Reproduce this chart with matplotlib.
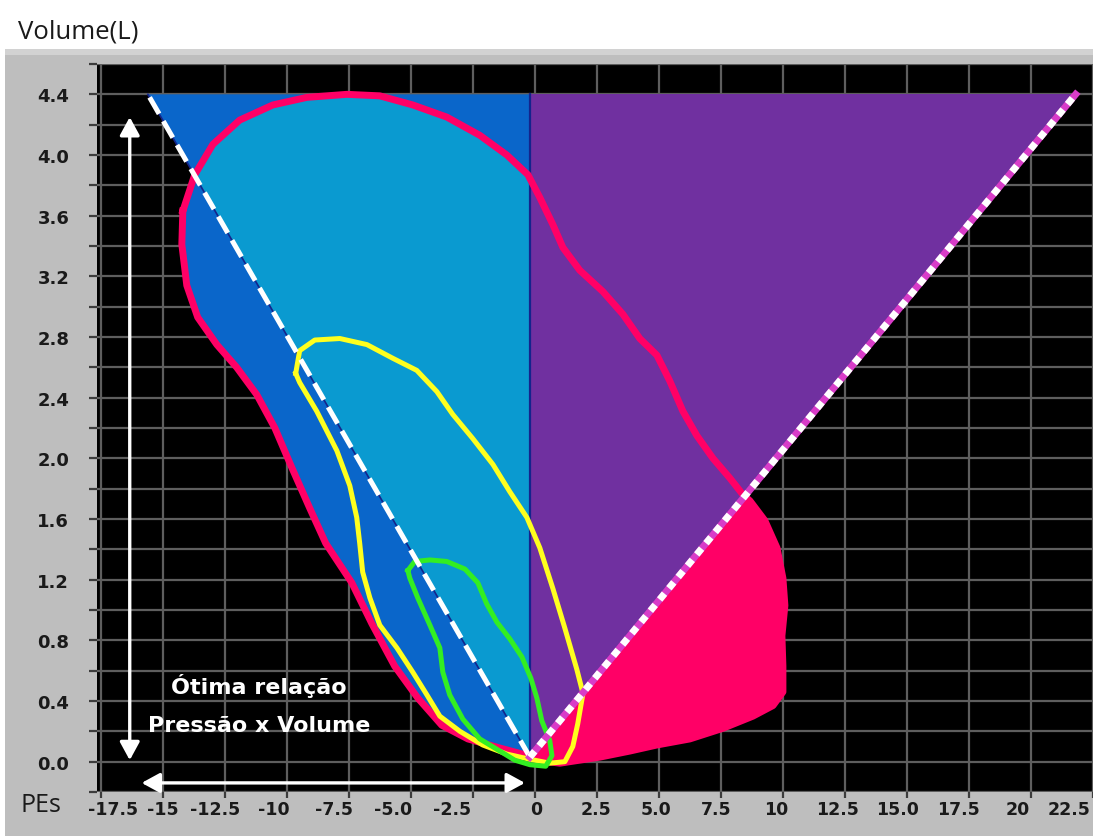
import numpy as np
import matplotlib.pyplot as plt
from matplotlib.patches import Polygon, Rectangle
from matplotlib.transforms import ScaledTranslation

# esophageal pressure (cmH2O) x volume (L) loops
outer_pes = [-14.19, -14.23, -14.03, -13.59, -12.82, -12.02, -11.21, -10.48, -9.80, -9.07,
             -8.43, -7.38, -6.57, -5.65, -4.72, -3.75, -2.70, -1.41, -0.28, 0.52,
             1.01, 1.81, 2.62, 3.83, 4.92, 6.25, 7.58, 8.79, 9.60, 10.00,
             10.00, 9.96, 10.08, 10.00, 9.76, 9.27, 8.67, 8.39, 7.86, 7.18,
             6.53, 5.97, 5.44, 4.92, 4.23, 3.55, 2.74, 1.81, 1.13, 0.73,
             0.20, -0.28, -1.13, -2.22, -3.55, -4.92, -6.25, -7.58, -9.19, -10.56,
             -11.90, -12.98, -13.71]
outer_vol = [3.63, 3.41, 3.14, 2.93, 2.75, 2.60, 2.42, 2.20, 1.94, 1.67,
             1.44, 1.18, 0.91, 0.63, 0.42, 0.24, 0.15, 0.09, 0.04, 0.00,
             -0.01, 0.01, 0.03, 0.07, 0.11, 0.15, 0.22, 0.30, 0.37, 0.46,
             0.63, 0.83, 1.03, 1.21, 1.41, 1.59, 1.72, 1.76, 1.87, 2.00,
             2.15, 2.31, 2.51, 2.68, 2.79, 2.95, 3.10, 3.24, 3.39, 3.54,
             3.72, 3.87, 4.00, 4.13, 4.25, 4.33, 4.39, 4.40, 4.38, 4.33,
             4.23, 4.07, 3.87]

mid_pes = [-9.64, -9.48, -8.87, -7.86, -6.77, -5.73, -4.76, -3.95, -3.31, -2.50,
           -1.69, -1.01, -0.32, 0.20, 0.73, 1.21, 1.69, 1.94, 1.73, 1.53,
           1.21, 0.60, -0.32, -1.13, -2.10, -3.02, -3.83, -4.35, -4.92, -5.56,
           -6.25, -6.65, -6.94, -7.06, -7.18, -7.46, -7.98, -8.79, -9.48]
mid_vol = [2.56, 2.71, 2.78, 2.79, 2.75, 2.66, 2.58, 2.44, 2.29, 2.13,
           1.96, 1.78, 1.61, 1.41, 1.14, 0.88, 0.61, 0.45, 0.25, 0.10,
           0.00, -0.01, 0.02, 0.05, 0.11, 0.20, 0.30, 0.44, 0.59, 0.75,
           0.90, 1.08, 1.25, 1.44, 1.61, 1.82, 2.05, 2.31, 2.50]

small_pes = [-5.12, -4.84, -4.23, -3.55, -2.82, -2.30, -1.94, -1.53, -1.01, -0.52,
             -0.16, 0.08, 0.28, 0.60, 0.69, 0.44, -0.20, -0.81, -1.41, -2.22,
             -2.90, -3.43, -3.71, -3.83, -4.23, -4.72, -5.04]
small_vol = [1.26, 1.32, 1.33, 1.32, 1.27, 1.18, 1.04, 0.92, 0.81, 0.69,
             0.55, 0.42, 0.27, 0.14, 0.04, -0.03, -0.02, 0.01, 0.07, 0.15,
             0.28, 0.44, 0.59, 0.75, 0.90, 1.08, 1.21]

# reference V: apex and the two upper corners
apex_pes, apex_vol = -0.2, 0.03
top_vol = 4.4
left_top_pes = -15.6
right_top_pes = 21.8

x_ticks = np.arange(-17.5, 22.51, 2.5)
x_labels = ['-17.5', '-15', '-12.5', '-10', '-7.5', '-5.0', '-2.5', '0', '2.5', '5.0',
            '7.5', '10', '12.5', '15.0', '17.5', '20', '22.5']
y_ticks = np.arange(0, 4.41, 0.4)
y_labels = ['0.0', '0.4', '0.8', '1.2', '1.6', '2.0', '2.4', '2.8', '3.2', '3.6', '4.0', '4.4']

# horizontal nudge (px) of each x label relative to its tick
x_label_nudge = [12, 0, -10, -13, -15, -18, -21, 1, -1, -3, -5, -7, -7, -9, -11, -13, -24]

XMIN, XMAX, YMIN, YMAX = -17.65, 22.5, -0.2, 4.6

LBLUE = '#0A9AD0'
DBLUE = '#0A66CA'
PURPLE = '#7030A0'
PINK = '#FF0066'
NAVY = '#14248C'

fig = plt.figure(figsize=(10.93, 8.37), dpi=100)
fig.patch.set_facecolor('white')
fig.add_artist(Rectangle((5 / 1093, 0), 1, 787 / 837, transform=fig.transFigure,
                         facecolor='#BEBEBE', edgecolor='none', zorder=0))
fig.add_artist(Rectangle((5 / 1093, 781 / 837), 1, 6 / 837, transform=fig.transFigure,
                         facecolor='#D2D2D2', edgecolor='none', zorder=0))

ax = fig.add_axes([97 / 1093, 44 / 837, 996 / 1093, 728 / 837])
ax.set_facecolor('black')
ax.set_xlim(XMIN, XMAX)
ax.set_ylim(YMIN, YMAX)
for s in ax.spines.values():
    s.set_visible(False)

ax.set_xticks(x_ticks)
ax.set_xticklabels(x_labels)
ax.set_yticks(y_ticks)
ax.set_yticklabels(y_labels)
ax.set_yticks(np.arange(-0.2, 4.61, 0.4), minor=True)
ax.set_axisbelow(True)
ax.grid(True, which='both', color='#5E5E5E', lw=1.6)
ax.tick_params(which='both', color='#3C3C3C', width=1.6, length=6)
ax.tick_params(axis='x', length=4.5, pad=1)
ax.tick_params(axis='y', pad=14)
for lab in ax.get_yticklabels():
    lab.set_fontfamily('DejaVu Sans')
    lab.set_fontweight('bold')
    lab.set_fontsize(13)
    lab.set_color('#1A1A1A')
for lab, dx in zip(ax.get_xticklabels(), x_label_nudge):
    lab.set_fontfamily('DejaVu Sans')
    lab.set_fontweight('bold')
    lab.set_fontsize(12.5)
    lab.set_color('#1A1A1A')
    lab.set_transform(lab.get_transform() + ScaledTranslation(dx / 100, 0, fig.dpi_scale_trans))

loop = np.column_stack([outer_pes, outer_vol])
tri_left = [(apex_pes, apex_vol), (left_top_pes, top_vol), (apex_pes, top_vol)]
tri_right = [(apex_pes, apex_vol), (apex_pes, top_vol), (right_top_pes, top_vol)]

left_half = Rectangle((XMIN, YMIN), apex_pes - XMIN, YMAX - YMIN, transform=ax.transData)
right_half = Rectangle((apex_pes, YMIN), XMAX - apex_pes, YMAX - YMIN, transform=ax.transData)
tri_left_clip = Polygon(tri_left, transform=ax.transData)

# right side: loop outside the V in pink, V itself in purple
p = ax.add_patch(Polygon(loop, facecolor=PINK, edgecolor='none', zorder=2))
p.set_clip_path(right_half)
ax.add_patch(Polygon(tri_right, facecolor=PURPLE, edgecolor='none', zorder=3))

# left side: loop and V in dark blue, their overlap in light blue
p = ax.add_patch(Polygon(loop, facecolor=DBLUE, edgecolor='none', zorder=2))
p.set_clip_path(left_half)
ax.add_patch(Polygon(tri_left, facecolor=DBLUE, edgecolor='none', zorder=2))
p = ax.add_patch(Polygon(loop, facecolor=LBLUE, edgecolor='none', zorder=3))
p.set_clip_path(tri_left_clip)

ax.plot([apex_pes, apex_pes], [apex_vol, top_vol], color=NAVY, lw=1.6, zorder=4)
ax.plot([apex_pes, left_top_pes], [apex_vol, top_vol], color=NAVY, lw=1.2, zorder=4)

ax.plot(outer_pes + outer_pes[:1], outer_vol + outer_vol[:1], color=PINK, lw=5,
        solid_joinstyle='round', zorder=5)
ax.plot(mid_pes + mid_pes[:1], mid_vol + mid_vol[:1], color='#FFFF1E', lw=3.6,
        solid_joinstyle='round', zorder=6)
ax.plot(small_pes + small_pes[:1], small_vol + small_vol[:1], color='#33EE22', lw=3.6,
        solid_joinstyle='round', zorder=7)

ax.plot([apex_pes, left_top_pes], [apex_vol, top_vol], color='white', lw=3.6,
        dashes=(3.8, 1.7), dash_capstyle='butt', zorder=8)
ax.plot([apex_pes, right_top_pes], [apex_vol, top_vol], color='#D83CC8', lw=5, zorder=8)
ax.plot([apex_pes, right_top_pes], [apex_vol, top_vol], color='white', lw=5,
        dashes=(1.1, 1.0), dash_capstyle='butt', zorder=9)

arrow = dict(arrowstyle='<|-|>,head_length=0.55,head_width=0.3', color='white',
             lw=2.4, mutation_scale=20, shrinkA=0, shrinkB=0)
ax.annotate('', xy=(-16.33, 4.25), xytext=(-16.33, 0.01), arrowprops=arrow, zorder=10)
ax.annotate('', xy=(-0.40, -0.14), xytext=(-15.85, -0.14), arrowprops=arrow, zorder=10)

ax.text(-11.13, 0.45, 'Ótima relação', ha='center', va='baseline', color='white',
        fontsize=16, fontweight='bold', family='DejaVu Sans', zorder=10)
ax.text(-11.13, 0.205, 'Pressão x Volume', ha='center', va='baseline', color='white',
        fontsize=16, fontweight='bold', family='DejaVu Sans', zorder=10)

fig.text(18 / 1093, 1 - 32 / 837, 'Volume(L)', ha='left', va='center',
         fontsize=18.5, family='Open Sans', color='#1A1A1A')
fig.text(41 / 1093, 1 - 806 / 837, 'PEs', ha='center', va='center',
         fontsize=18, family='Open Sans', color='#1A1A1A')

fig.savefig('out.png', dpi=100, facecolor='white')
